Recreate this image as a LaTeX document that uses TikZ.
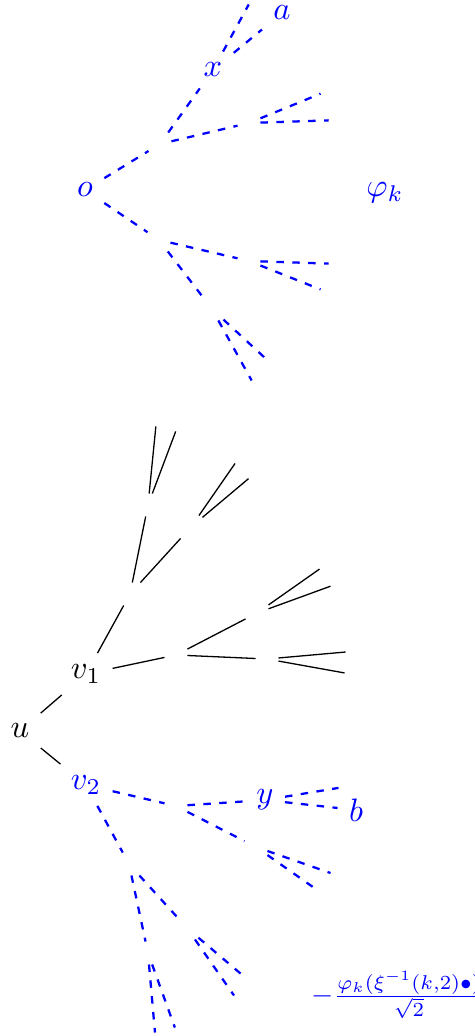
\documentclass[tikz,border=0pt]{standalone}
\begin{document}
\begin{tikzpicture}[x=0.308pt,y=-0.308pt,
  pt/.style={inner sep=0.3333em},
  bl/.style={text=blue},
  sedge/.style={draw=black,line width=0.4pt},
  dedge/.style={draw=blue,line width=0.7pt,dash pattern=on 2.3pt off 2.6pt}]
\useasboundingbox (0,0) rectangle (475,1036);
% top tree
\node[pt,bl] (o) at (85,190) {$o$};
\node[pt] (A) at (160,144) {};
\node[pt,bl] (x) at (213,70) {$x$};
\node[pt] (L1) at (255,-7) {};
\node[pt,bl] (a) at (282,13) {$a$};
\node[pt] (B) at (249,123) {};
\node[pt] (L2) at (332,89) {};
\node[pt] (L3) at (340,120) {};
\node[pt] (A2) at (159,240) {};
\node[pt] (B2) at (249,261) {};
\node[pt] (L4) at (340,264) {};
\node[pt] (L5) at (332,294) {};
\node[pt] (C2) at (212,309) {};
\node[pt] (L6) at (258,392) {};
\node[pt] (L7) at (278,370) {};
\node[pt,bl] (phi) at (385,193) {$\varphi_k$};
\foreach \s/\t in {o/A,A/x,x/L1,x/a,A/B,B/L2,B/L3,o/A2,A2/B2,B2/L4,B2/L5,A2/C2,C2/L6,C2/L7}
  \draw[dedge] (\s) -- (\t);
% bottom tree
\node[pt] (u) at (20,731) {$u$};
\node[pt] (v1) at (86,674) {$v_1$};
\node[pt,bl] (v2) at (86,785) {$v_2$};
\node[pt] (P) at (130,594) {};
\node[pt] (Q) at (148,505) {};
\node[pt] (Q1) at (157,415) {};
\node[pt] (Q2) at (180,420) {};
\node[pt] (R) at (191,527) {};
\node[pt] (R1) at (243,452) {};
\node[pt] (R2) at (260,469) {};
\node[pt] (S) at (176,655) {};
\node[pt] (T) at (257,613) {};
\node[pt] (T1) at (331,561) {};
\node[pt] (T2) at (342,582) {};
\node[pt] (U) at (267,659) {};
\node[pt] (U1) at (357,651) {};
\node[pt] (U2) at (356,675) {};
\foreach \s/\t in {u/v1,u/v2,v1/P,v1/S,P/Q,P/R,Q/Q1,Q/Q2,R/R1,R/R2,S/T,S/U,T/T1,T/T2,U/U1,U/U2}
  \draw[sedge] (\s) -- (\t);
\node[pt] (W) at (176,806) {};
\node[pt] (X) at (129,864) {};
\node[pt,bl] (y) at (265,800) {$y$};
\node[pt] (Y) at (256,847) {};
\node[pt] (y1) at (350,786) {};
\node[pt,bl] (b) at (356,810) {$b$};
\node[pt] (Y1) at (342,877) {};
\node[pt] (Y2) at (330,899) {};
\node[pt] (Z) at (148,953) {};
\node[pt] (Z2) at (187,928) {};
\node[pt] (Z21) at (254,985) {};
\node[pt] (Z22) at (242,1007) {};
\node[pt] (Z1) at (156,1044) {};
\node[pt] (Z1b) at (179,1039) {};
\foreach \s/\t in {v2/W,v2/X,W/y,W/Y,y/y1,y/b,Y/Y1,Y/Y2,X/Z,X/Z2,Z2/Z21,Z2/Z22,Z/Z1,Z/Z1b}
  \draw[dedge] (\s) -- (\t);
\node[inner sep=0pt,anchor=west,bl] (lab) at (311,995) {\scalebox{0.88}{$-\frac{\varphi_k(\xi^{-1}(k,2)\bullet)}{\sqrt{2}}$}};
\end{tikzpicture}
\end{document}
